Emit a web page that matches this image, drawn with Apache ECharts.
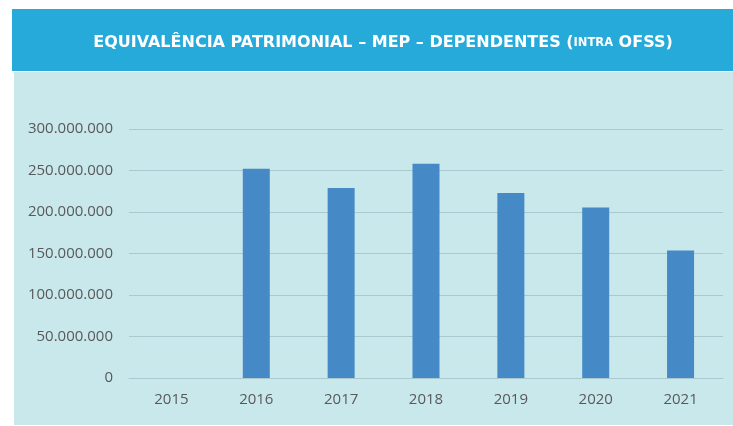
<!DOCTYPE html>
<html>
<head>
<meta charset="utf-8">
<script src="https://cdn.jsdelivr.net/npm/echarts@6/dist/echarts.min.js"></script>
<style>
  html, body { margin: 0; padding: 0; background: #fff; }
  #chart { width: 733px; height: 426px; }
</style>
</head>
<body>
<div id="chart"></div>
<script>
// data
const years = ['2015', '2016', '2017', '2018', '2019', '2020', '2021'];
const values = [0, 252000000, 229000000, 258000000, 223000000, 205500000, 153500000];

const chart = echarts.init(document.getElementById('chart'));

// formats 250000000 as 250.000.000
function fmt(v) {
  return String(v).replace(/\B(?=(\d{3})+(?!\d))/g, '.');
}

const font = '"Open Sans", sans-serif';
const titleFont = '"DejaVu Sans", sans-serif';

const option = {
  animation: false,
  textStyle: { fontFamily: font },
  graphic: [
    {
      type: 'rect',
      shape: { x: 12, y: 9, width: 721, height: 62 },
      style: { fill: '#25AADA' },
      z: -10
    },
    {
      type: 'rect',
      shape: { x: 14, y: 72, width: 719, height: 353 },
      style: { fill: '#C9E8EC' },
      z: -10
    }
  ],
  title: {
    text: '{b|EQUIVALÊNCIA PATRIMONIAL – MEP – DEPENDENTES (}{s|INTRA}{b| OFSS)}',
    left: 378,
    top: 30,
    textAlign: 'center',
    textStyle: {
      fontFamily: titleFont,
      fontSize: 16,
      fontWeight: 'bold',
      color: '#fff',
      rich: {
        b: { fontSize: 16, fontWeight: 'bold', color: '#fff', fontFamily: titleFont },
        s: { fontSize: 11.5, fontWeight: 'bold', color: '#fff', fontFamily: titleFont }
      }
    }
  },
  grid: {
    left: 129,
    right: 10,
    top: 129,
    bottom: 48
  },
  xAxis: {
    type: 'category',
    data: years,
    axisTick: { show: false },
    axisLine: { lineStyle: { color: '#A9C9CE', width: 1 } },
    axisLabel: { color: '#595959', fontSize: 15, margin: 14, fontFamily: font }
  },
  yAxis: {
    type: 'value',
    min: 0,
    max: 300000000,
    interval: 50000000,
    axisLine: { show: false },
    axisTick: { show: false },
    axisLabel: { color: '#595959', fontSize: 15, margin: 16, fontFamily: font, formatter: fmt },
    splitLine: { lineStyle: { color: '#A9C9CE', width: 1 } }
  },
  series: [
    {
      type: 'bar',
      data: values,
      barWidth: 27,
      itemStyle: { color: '#4589C6' }
    }
  ]
};

chart.setOption(option);
</script>
</body>
</html>
